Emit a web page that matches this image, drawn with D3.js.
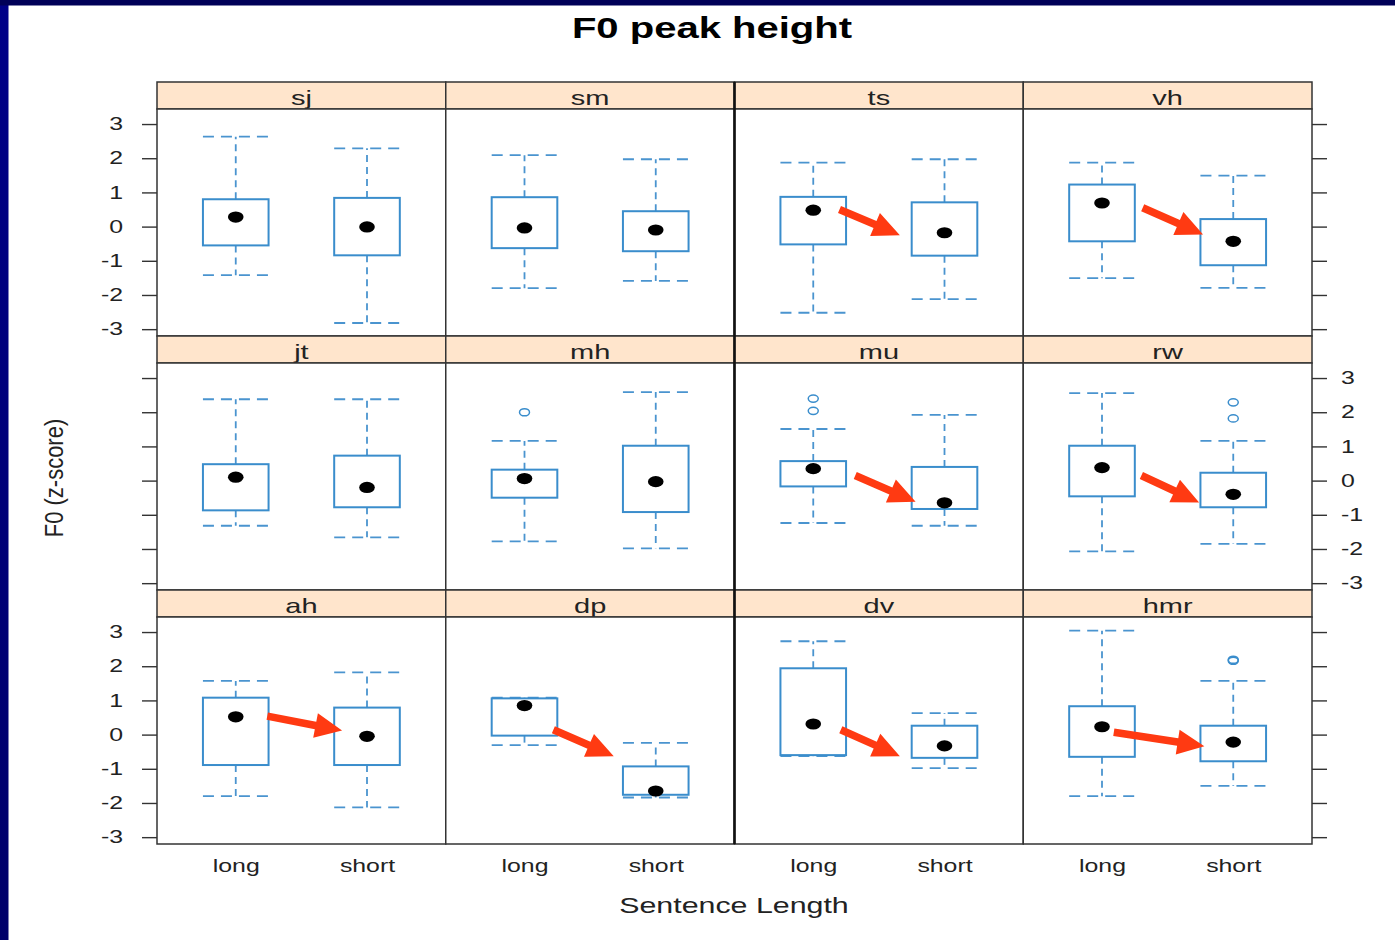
<!DOCTYPE html>
<html>
<head>
<meta charset="utf-8">
<script src="https://cdn.jsdelivr.net/npm/d3@7"></script>
<style>
  html, body { margin: 0; padding: 0; background: #fff; }
  svg { display: block; }
  text { font-family: "Liberation Sans", Arial, Helvetica, sans-serif; }
</style>
</head>
<body>
<svg id="chart" width="1395" height="940"></svg>
<script>
// ---- data ---------------------------------------------------------------
const speakers = ["sj", "sm", "ts", "vh", "jt", "mh", "mu", "rw", "ah", "dp", "dv", "hmr"];
const lengths = ["long", "short"];
const yTicks = [-3, -2, -1, 0, 1, 2, 3];

// five-number summaries per speaker, [long, short]
const whiskerLow  = [[-1.42, -2.82], [-1.80, -1.59], [-2.52, -2.12], [-1.51, -1.79],
                     [-1.32, -1.66], [-1.78, -1.98], [-1.24, -1.32], [-2.07, -1.85],
                     [-1.80, -2.13], [-0.31, -1.84], [-0.63, -0.98], [-1.80, -1.50]];
const boxLow      = [[-0.55, -0.84], [-0.63, -0.72], [-0.52, -0.85], [-0.43, -1.13],
                     [-0.87, -0.78], [-0.50, -0.92], [-0.17, -0.83], [-0.46, -0.78],
                     [-0.89, -0.89], [-0.03, -1.76], [-0.60, -0.68], [-0.65, -0.78]];
const medians     = [[ 0.28, -0.01], [-0.04, -0.10], [ 0.48, -0.18], [ 0.69, -0.43],
                     [ 0.10, -0.20], [ 0.06, -0.03], [ 0.35, -0.65], [ 0.38, -0.40],
                     [ 0.52, -0.05], [ 0.85, -1.65], [ 0.31, -0.33], [ 0.23, -0.22]];
const boxHigh     = [[ 0.80,  0.84], [ 0.86,  0.45], [ 0.87,  0.71], [ 1.23,  0.22],
                     [ 0.48,  0.73], [ 0.32,  1.02], [ 0.57,  0.40], [ 1.02,  0.23],
                     [ 1.08,  0.79], [ 1.06, -0.93], [ 1.94,  0.26], [ 0.83,  0.26]];
const whiskerHigh = [[ 2.63,  2.29], [ 2.09,  1.97], [ 1.87,  1.97], [ 1.87,  1.49],
                     [ 2.38,  2.38], [ 1.16,  2.59], [ 1.51,  1.92], [ 2.56,  1.16],
                     [ 1.57,  1.82], [ 1.08, -0.24], [ 2.73,  0.63], [ 3.04,  1.57]];

// outlying points: speaker, length, value
const outlierSpeaker = ["mh", "mu", "mu", "rw", "rw", "hmr", "hmr"];
const outlierLength  = ["long", "long", "long", "short", "short", "short", "short"];
const outlierValue   = [2.00, 2.04, 2.40, 1.82, 2.29, 2.16, 2.19];

// highlight arrows (x in category units: long = 1, short = 2)
const arrowSpeaker = ["ts", "vh", "mu", "rw", "ah", "dp", "dv", "hmr"];
const arrowFrom = [[1.20, 0.50], [1.31, 0.55], [1.32, 0.15], [1.30, 0.15],
                   [1.24, 0.54], [1.22, 0.14], [1.21, 0.14], [1.09, 0.07]];
const arrowTo   = [[1.66, -0.25], [1.77, -0.23], [1.78, -0.62], [1.74, -0.64],
                   [1.81, 0.12], [1.68, -0.63], [1.66, -0.63], [1.78, -0.34]];

// ---- layout -------------------------------------------------------------
const svg = d3.select("#chart");
const W = 1395, H = 940;
const gridLeft = 157, gridRight = 1312, gridTop = 82;
const nCols = 4, nRows = 3;
const colW = (gridRight - gridLeft) / nCols;
const stripH = 27, panelH = 227, rowH = stripH + panelH;
const TX = 1.38;                  // horizontal text stretch
const boxCol = "#3a8dcc", whiskCol = "#4a94cf", frameCol = "#333";
const tickLabel = d => String(d); // plain hyphen-minus labels

function stretch(sel, sx) {
  sel.each(function () {
    const t = d3.select(this);
    const x = +t.attr("x") || 0, y = +t.attr("y") || 0;
    t.attr("x", 0).attr("y", 0).attr("transform", `translate(${x},${y}) scale(${sx},1)`);
  });
}

// background and frame bands
svg.append("rect").attr("width", W).attr("height", H).attr("fill", "#fff");
const defs = svg.append("defs");
const grad = defs.append("linearGradient").attr("id", "band").attr("x1", 0).attr("y1", 0).attr("x2", 0).attr("y2", 1);
grad.append("stop").attr("offset", 0).attr("stop-color", "#000088");
grad.append("stop").attr("offset", 1).attr("stop-color", "#00006a");
svg.append("rect").attr("x", 0).attr("y", 0).attr("width", 8.5).attr("height", H).attr("fill", "url(#band)");
svg.append("rect").attr("x", 0).attr("y", 0).attr("width", W).attr("height", 5.5).attr("fill", "#000058");

// title and axis titles
svg.append("text").attr("x", 712).attr("y", 38).attr("text-anchor", "middle")
  .attr("font-size", 29).attr("font-weight", "bold").attr("fill", "#000")
  .text("F0 peak height").call(stretch, TX);
svg.append("text").attr("x", 734).attr("y", 913).attr("text-anchor", "middle")
  .attr("font-size", 22).attr("fill", "#222")
  .text("Sentence Length").call(stretch, TX);
svg.append("text").attr("transform", "translate(63,478) rotate(-90) scale(1,1.15)")
  .attr("text-anchor", "middle").attr("font-size", 22).attr("fill", "#222")
  .text("F0 (z-score)");

const x = d3.scalePoint().domain(lengths).range([0, colW]).padding(0.6);
const xu = d3.scaleLinear().domain([0.4, 2.6]).range([0, colW]);   // category units
const y = d3.scaleLinear().domain([-3.2, 3.44]).range([panelH, 0]);
const boxW = x.step() * 0.5;

speakers.forEach((sp, i) => {
  const col = i % nCols, row = Math.floor(i / nCols);
  const gx = gridLeft + col * colW, gy = gridTop + row * rowH;
  const g = svg.append("g").attr("transform", `translate(${gx},${gy})`);

  // strip
  g.append("rect").attr("x", 0).attr("y", 0).attr("width", colW).attr("height", stripH)
    .attr("fill", "#ffe5cc").attr("stroke", frameCol).attr("stroke-width", 1.5);
  g.append("text").attr("x", colW / 2).attr("y", stripH - 4.5).attr("text-anchor", "middle")
    .attr("font-size", 21).attr("fill", "#222").text(sp).call(stretch, TX);

  const p = g.append("g").attr("transform", `translate(0,${stripH})`);
  p.append("rect").attr("width", colW).attr("height", panelH).attr("fill", "#fff");

  // axes
  const left = d3.axisLeft(y).tickValues(yTicks).tickSize(15).tickPadding(19)
    .tickFormat(row === 1 ? "" : tickLabel);
  const right = d3.axisRight(y).tickValues(yTicks).tickSize(15).tickPadding(14)
    .tickFormat(row === 1 ? tickLabel : "");
  if (col === 0) {
    const a = p.append("g").call(left);
    a.select(".domain").remove();
    a.selectAll("line").attr("stroke", frameCol).attr("stroke-width", 1.4);
    a.selectAll("text").attr("font-size", 18).attr("fill", "#222").attr("font-family", null).call(stretch, TX);
  }
  if (col === nCols - 1) {
    const a = p.append("g").attr("transform", `translate(${colW},0)`).call(right);
    a.select(".domain").remove();
    a.selectAll("line").attr("stroke", frameCol).attr("stroke-width", 1.4);
    a.selectAll("text").attr("font-size", 18).attr("fill", "#222").attr("font-family", null).call(stretch, TX);
  }
  if (row === nRows - 1) {
    const a = p.append("g").attr("transform", `translate(0,${panelH})`)
      .call(d3.axisBottom(x).tickSize(0).tickPadding(15));
    a.select(".domain").remove();
    a.selectAll("text").attr("font-size", 18).attr("fill", "#222").attr("font-family", null).call(stretch, TX);
  }

  // boxes and whiskers
  lengths.forEach((len, j) => {
    const cx = x(len);
    const lo = whiskerLow[i][j], q1 = boxLow[i][j], md = medians[i][j];
    const q3 = boxHigh[i][j], hi = whiskerHigh[i][j];
    const dashV = "7,5", dashH = "11,7";
    p.append("line").attr("x1", cx).attr("x2", cx).attr("y1", y(q3)).attr("y2", y(hi))
      .attr("stroke", whiskCol).attr("stroke-width", 1.8).attr("stroke-dasharray", dashV);
    p.append("line").attr("x1", cx).attr("x2", cx).attr("y1", y(q1)).attr("y2", y(lo))
      .attr("stroke", whiskCol).attr("stroke-width", 1.8).attr("stroke-dasharray", dashV);
    [hi, lo].forEach(v => {
      p.append("line").attr("x1", cx - boxW / 2).attr("x2", cx + boxW / 2)
        .attr("y1", y(v)).attr("y2", y(v))
        .attr("stroke", whiskCol).attr("stroke-width", 1.8).attr("stroke-dasharray", dashH);
    });
    p.append("rect").attr("x", cx - boxW / 2).attr("y", y(q3))
      .attr("width", boxW).attr("height", y(q1) - y(q3))
      .attr("fill", "none").attr("stroke", boxCol).attr("stroke-width", 2);
    p.append("ellipse").attr("cx", cx).attr("cy", y(md)).attr("rx", 7.8).attr("ry", 5.6)
      .attr("fill", "#000");
  });

  // outliers
  outlierSpeaker.forEach((s, k) => {
    if (s !== sp) return;
    p.append("ellipse").attr("cx", x(outlierLength[k])).attr("cy", y(outlierValue[k]))
      .attr("rx", 5).attr("ry", 3.6).attr("fill", "none")
      .attr("stroke", boxCol).attr("stroke-width", 1.5);
  });

  // panel frame
  p.append("rect").attr("width", colW).attr("height", panelH).attr("fill", "none")
    .attr("stroke", frameCol).attr("stroke-width", 1.5);

  // highlight arrow
  const ai = arrowSpeaker.indexOf(sp);
  if (ai >= 0) {
    const x1 = xu(arrowFrom[ai][0]), y1 = y(arrowFrom[ai][1]);
    const x2 = xu(arrowTo[ai][0]), y2 = y(arrowTo[ai][1]);
    const dx = x2 - x1, dy = y2 - y1, L = Math.hypot(dx, dy);
    const ux = dx / L, uy = dy / L, nx = -uy, ny = ux;
    const headLen = 27, headHalf = 12.5, shaftHalf = 3.8;
    const bx = x2 - ux * headLen, by = y2 - uy * headLen;
    const pts = [
      [x1 + nx * shaftHalf, y1 + ny * shaftHalf],
      [bx + nx * shaftHalf, by + ny * shaftHalf],
      [bx + nx * headHalf, by + ny * headHalf],
      [x2, y2],
      [bx - nx * headHalf, by - ny * headHalf],
      [bx - nx * shaftHalf, by - ny * shaftHalf],
      [x1 - nx * shaftHalf, y1 - ny * shaftHalf]
    ];
    p.append("polygon").attr("points", pts.map(d => d.join(",")).join(" "))
      .attr("fill", "#ff3a12");
  }
});

// heavier divider between the second and third columns
svg.append("line").attr("x1", gridLeft + 2 * colW).attr("x2", gridLeft + 2 * colW)
  .attr("y1", gridTop).attr("y2", gridTop + nRows * rowH)
  .attr("stroke", "#111").attr("stroke-width", 2.6);
</script>
</body>
</html>
